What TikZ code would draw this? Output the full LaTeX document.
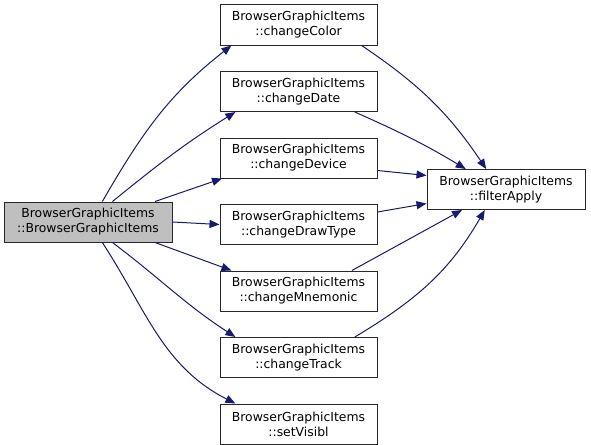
\documentclass[tikz,border=0pt]{standalone}
\usepackage{fontspec}
\setmainfont{DejaVu Sans}
\usetikzlibrary{arrows.meta,positioning}
\definecolor{edgeblue}{RGB}{25,25,112}
\definecolor{maingray}{RGB}{191,191,191}
\definecolor{boxline}{RGB}{40,40,40}

\begin{document}
\begin{tikzpicture}[x=0.75pt, y=0.75pt, node distance=19.125pt]
\tikzstyle{func} = [rectangle, draw=boxline, fill=white, line width=0.75pt, minimum width=117.75pt, minimum height=30pt, align=center, inner sep=2pt, font=\fontsize{9.3}{11.25}\selectfont]
\tikzstyle{caller} = [func, fill=maingray, minimum width=126pt]
\tikzstyle{call} = [draw=edgeblue, line width=0.75pt, -{Triangle[length=7.5pt,width=6pt]}]

\useasboundingbox (0,0) rectangle (591,444);

\node (main) [caller] at (88,222) {BrowserGraphicItems\\::BrowserGraphicItems};
\node (changeColor) [func] at (298.5,419) {BrowserGraphicItems\\::changeColor};
\node (changeDate) [func, below=of changeColor] {BrowserGraphicItems\\::changeDate};
\node (changeDevice) [func, below=of changeDate] {BrowserGraphicItems\\::changeDevice};
\node (changeDrawType) [func, below=of changeDevice] {BrowserGraphicItems\\::changeDrawType};
\node (changeMnemonic) [func, below=of changeDrawType] {BrowserGraphicItems\\::changeMnemonic};
\node (changeTrack) [func, below=of changeMnemonic] {BrowserGraphicItems\\::changeTrack};
\node (setVisibl) [func, below=of changeTrack] {BrowserGraphicItems\\::setVisibl};
\node (filterApply) [func, minimum width=118.5pt] at (506,254.5) {BrowserGraphicItems\\::filterApply};

% calls from the constructor
\draw [call] (main.55) to[out=60,in=218] (changeColor.197.5);
\draw [call] (main.40) to[out=39,in=212] (changeDate.198);
\draw [call] (main.17) -- (changeDevice.195);
\draw [call] (main.east) -- (changeDrawType.west);
\draw [call] (main.-17) -- (changeMnemonic.163);
\draw [call] (main.-40) to[out=-37,in=147] (changeTrack.162);
\draw [call] (main.-55) to[out=-57,in=153] (setVisibl.162);

% calls into filterApply
\draw [call] (changeColor.-18.6) to[out=-34,in=124] (filterApply.134);
\draw [call] (changeDate.-20) to[out=-24,in=149] (filterApply.153);
\draw [call] (changeDevice.-9) -- (filterApply.170);
\draw [call] (changeDrawType.9) -- (filterApply.190);
\draw [call] (changeMnemonic.21) -- (filterApply.205);
\draw [call] (changeTrack.20) to[out=31,in=240] (filterApply.224);
\end{tikzpicture}
\end{document}
